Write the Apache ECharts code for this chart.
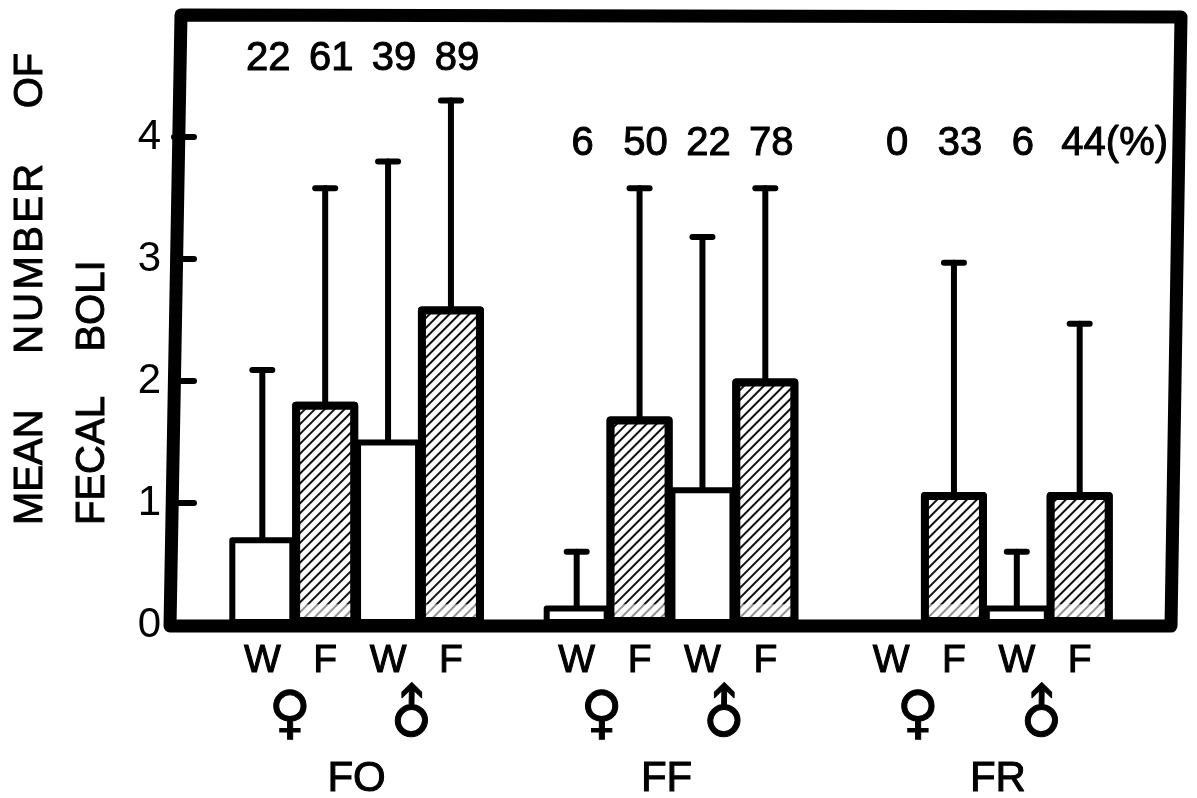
<!DOCTYPE html>
<html>
<head>
<meta charset="utf-8">
<style>html,body{margin:0;padding:0;background:#fff}#c{width:1197px;height:798px}</style>
<script src="https://cdn.jsdelivr.net/npm/echarts@6/dist/echarts.min.js"></script>
</head>
<body>
<div id="c"></div>
<script>
const categories = ['', 'W','F','W','F', '', 'W','F','W','F', '', 'W','F','W','F', ''];
const whiteMeans = [null,0.72,null,1.52,null,null,0.16,null,1.13,null,null,0,null,0.16,null,null];
const foodMeans  = [null,null,1.83,null,2.61,null,null,1.71,null,2.02,null,null,1.09,null,1.09,null];
const upperError = [null,2.09,3.58,3.8,4.3,null,0.6,3.58,3.18,3.58,null,null,2.97,0.6,2.47,null];
const percentLabels = [null,'22','61','39','89',null,'6','50','22','78',null,'0','33','6','44(%)',null];
const percentHeights = [null,4.64,4.64,4.64,4.64,null,3.94,3.94,3.94,3.94,null,3.94,3.94,3.94,3.94,null];
const sexLabels = ['♀','♂','♀','♂','♀','♂'];
const sexSlots = [1.94,3.93,6.9,8.9,11.93,13.95];
const groupLabels = ['FO','FF','FR'];
const groupSlots = [3.0,7.93,13.2];
const yTicks = [0,1,2,3,4];
const fadeHeight = 0.17;

const INK = '#000';
const digitFont = '"Liberation Sans",sans-serif';
const letterFont = '"Liberation Sans",sans-serif';
const heavy = {textBorderColor:INK,textBorderWidth:1};
const NB = '\u00a0';
const chart = echarts.init(document.getElementById('c'), null, {renderer:'canvas'});

const option = {
  animation:false,
  backgroundColor:'#fff',
  grid:{left:168,right:23,top:15,height:610,show:false},
  xAxis:[
    {type:'category',data:categories,boundaryGap:true,
     axisLine:{show:false},axisTick:{show:false},
     axisLabel:{interval:0,margin:17,color:INK,fontFamily:letterFont,fontSize:39,...heavy}},
    {type:'value',min:0,max:16,show:false}
  ],
  yAxis:{type:'value',min:0,max:5,offset:-6,
    splitLine:{show:false},axisLine:{show:false},
    axisTick:{show:true,inside:true,length:20,lineStyle:{color:INK,width:6,cap:'round'},customValues:[1,2,3,4]},
    axisLabel:{customValues:yTicks,color:INK,fontFamily:digitFont,fontSize:42,margin:13}
  },
  graphic:[
    {type:'polygon',z:10,shape:{points:[[181,15],[1181,17],[1171,626],[170,626]]},
     style:{fill:'none',stroke:INK,lineWidth:13,lineJoin:'round'}},
    {type:'text',x:31,y:525,rotation:Math.PI/2,z:5,
     style:{text:'MEAN'+NB.repeat(5)+'N\u200aU\u200aM\u200aB\u200aE\u200aR'+NB.repeat(5)+'OF',fill:INK,stroke:INK,lineWidth:1,font:'40px '+letterFont,textAlign:'left',textVerticalAlign:'middle'}},
    {type:'text',x:93,y:525,rotation:Math.PI/2,z:5,
     style:{text:'FECAL'+NB.repeat(4)+'BOLI',fill:INK,stroke:INK,lineWidth:1,font:'40px '+letterFont,textAlign:'left',textVerticalAlign:'middle'}}
  ],
  series:[
    {type:'bar',name:'W',data:whiteMeans,barWidth:66,barGap:'-100%',z:3,
     itemStyle:{color:'#fff',borderColor:INK,borderWidth:6,borderJoin:'round'}},
    {type:'bar',name:'F',data:foodMeans,barWidth:66,barGap:'-100%',z:4,
     itemStyle:{color:'#fff',borderColor:INK,borderWidth:8,borderJoin:'round',
       decal:{symbol:'rect',symbolSize:1,dashArrayX:[1,0],dashArrayY:[1.5,4.5],rotation:-Math.PI/4,color:'#111',backgroundColor:'#fff'}}},
    {type:'custom',name:'fade',z:4,silent:true,
     data:foodMeans.map((v,i)=>v==null?null:[i,fadeHeight]).filter(Boolean),
     encode:{x:0,y:1},
     renderItem:(params,api)=>{
       const p=api.coord([api.value(0),api.value(1)]);
       const b=api.coord([api.value(0),0]);
       return {type:'rect',z2:50,shape:{x:p[0]-25,y:p[1],width:50,height:b[1]-p[1]-8},
         style:{fill:'rgba(255,255,255,0.55)'}};
     }},
    {type:'custom',name:'error',z:5,clip:false,
     data:upperError.map((u,i)=>u==null?null:[i,whiteMeans[i]!=null?whiteMeans[i]:foodMeans[i],u]).filter(Boolean),
     encode:{x:0,y:2},
     renderItem:(params,api)=>{
       const base=api.coord([api.value(0),api.value(1)]);
       const top=api.coord([api.value(0),api.value(2)]);
       const st={stroke:INK,fill:'none',lineWidth:6,lineCap:'round'};
       return {type:'group',children:[
         {type:'line',shape:{x1:base[0],y1:base[1],x2:top[0],y2:top[1]},style:st},
         {type:'line',shape:{x1:top[0]-10,y1:top[1],x2:top[0]+10,y2:top[1]},style:st}
       ]};
     }},
    {type:'scatter',name:'percent',symbolSize:0,z:6,silent:true,itemStyle:{opacity:1},
     data:percentLabels.map((t,i)=>t==null?null:{value:[i,percentHeights[i]],
       label:{show:true,formatter:t,position:'inside',offset:[t.length>2?35:6,0],
         color:INK,fontFamily:digitFont,fontSize:40,...heavy}}).filter(Boolean)},
    {type:'scatter',name:'sex',xAxisIndex:1,symbolSize:0,clip:false,silent:true,z:6,itemStyle:{opacity:1},
     data:sexLabels.map((t,i)=>({value:[sexSlots[i],-0.754],
       label:{show:true,formatter:t,position:'inside',rotate:t==='♂'?45:0,
         color:INK,fontFamily:'"DejaVu Sans"',fontSize:58,...heavy}}))},
    {type:'scatter',name:'group',xAxisIndex:1,symbolSize:0,clip:false,silent:true,z:6,itemStyle:{opacity:1},
     data:groupLabels.map((t,i)=>({value:[groupSlots[i],-1.265],
       label:{show:true,formatter:t,position:'inside',color:INK,fontFamily:letterFont,fontSize:42,...heavy}}))}
  ]
};
chart.setOption(option);
</script>
</body>
</html>
